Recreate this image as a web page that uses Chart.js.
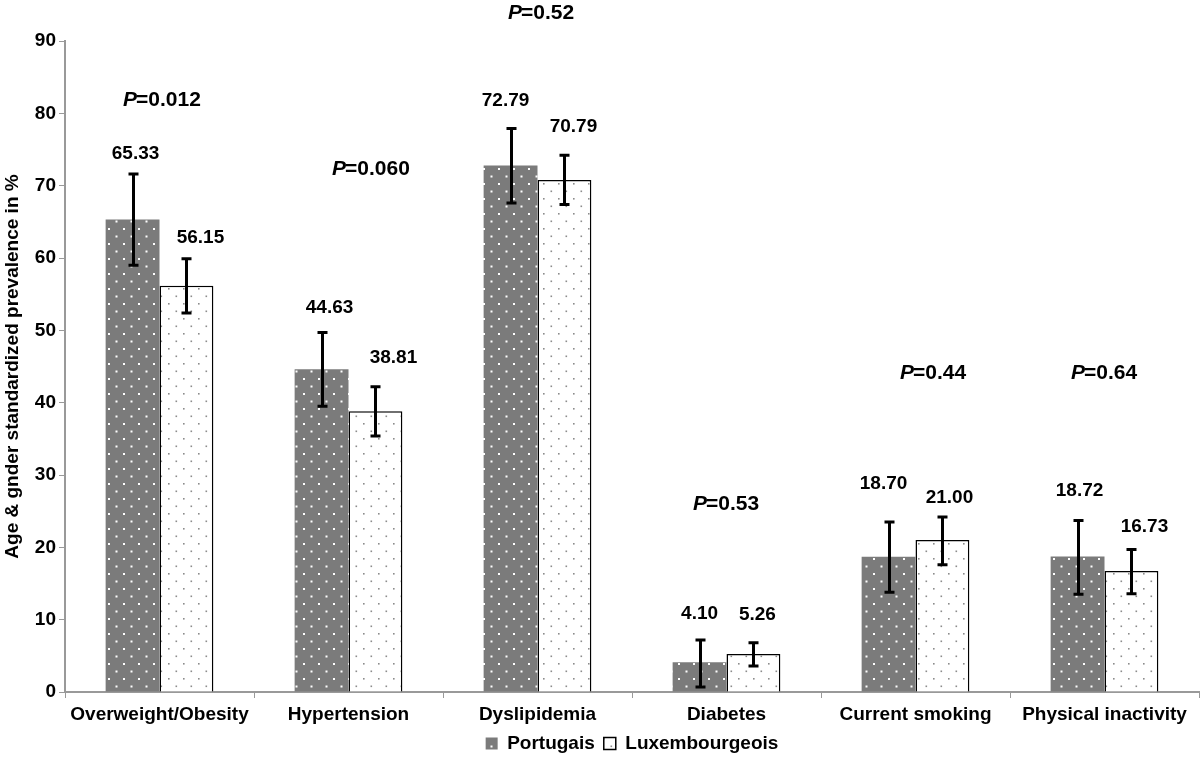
<!DOCTYPE html>
<html>
<head>
<meta charset="utf-8">
<script src="https://cdn.jsdelivr.net/npm/chart.js@4.4.1/dist/chart.umd.min.js"></script>
<style>
  html, body { margin: 0; padding: 0; background: #fff; }
  #wrap { width: 1200px; height: 758px; }
</style>
</head>
<body>
<div id="wrap"><canvas id="c" width="1200" height="758"></canvas></div>
<script>
// ---- data ----
const categories = ['Overweight/Obesity', 'Hypertension', 'Dyslipidemia', 'Diabetes', 'Current smoking', 'Physical inactivity'];
const seriesNames = ['Portugais', 'Luxembourgeois'];
const portugais = [65.33, 44.63, 72.79, 4.10, 18.70, 18.72];
const luxembourgeois = [56.15, 38.81, 70.79, 5.26, 21.00, 16.73];
const portugaisLow = [59.0, 39.5, 67.6, 0.7, 13.8, 13.5];
const portugaisHigh = [71.6, 49.7, 77.9, 7.2, 23.5, 23.7];
const luxembourgeoisLow = [52.4, 35.4, 67.4, 3.6, 17.6, 13.6];
const luxembourgeoisHigh = [59.9, 42.2, 74.2, 6.8, 24.2, 19.7];
const pValues = ['0.012', '0.060', '0.52', '0.53', '0.44', '0.64'];
const pValueLevel = [81.8, 72.3, 93.9, 25.9, 44.1, 44.1];
const yTickValues = [0, 10, 20, 30, 40, 50, 60, 70, 80, 90];

// ---- layout tweaks (pixels) ----
const pLabelDx = [3, 23, 4, 0, 18, 0];
const labelGap = [[20, 25, 28, 26, 38, 30], [21, 29, 29, 28, 19, 23]];
const labelDx = [[3, 8, -5, 0, -5, 2], [14, 18, 9, 4, 7, 13]];

const FONT = '"Liberation Sans", Arial, Helvetica, sans-serif';

function makePattern(bg, dot, size) {
  const c = document.createElement('canvas');
  c.width = 15; c.height = 15;
  const g = c.getContext('2d');
  g.fillStyle = bg; g.fillRect(0, 0, 15, 15);
  g.fillStyle = dot;
  g.fillRect(3, 3, size, size);
  g.fillRect(10.5, 10.5, size, size);
  return g.createPattern(c, 'repeat');
}
const ctx = document.getElementById('c').getContext('2d');
const patP = makePattern('#7b7b7b', '#ffffff', 2);
const patL = makePattern('#ffffff', '#8c8c8c', 1.6);

const errLow = [portugaisLow, luxembourgeoisLow];
const errHigh = [portugaisHigh, luxembourgeoisHigh];
const values = [portugais, luxembourgeois];

const overlay = {
  id: 'overlay',
  afterDatasetsDraw(chart) {
    const c = chart.ctx;
    const ys = chart.scales.y;
    const xs = chart.scales.x;
    c.save();
    c.strokeStyle = '#000';
    c.lineWidth = 3;
    c.lineCap = 'butt';
    for (let d = 0; d < 2; d++) {
      const meta = chart.getDatasetMeta(d);
      meta.data.forEach((bar, i) => {
        const x = Math.round(bar.x) + 0.5;
        const yl = ys.getPixelForValue(errLow[d][i]);
        const yh = ys.getPixelForValue(errHigh[d][i]);
        c.beginPath();
        c.moveTo(x, yh); c.lineTo(x, yl);
        c.moveTo(x - 5, yh); c.lineTo(x + 5, yh);
        c.moveTo(x - 5, yl); c.lineTo(x + 5, yl);
        c.stroke();
        c.fillStyle = '#000';
        c.font = 'bold 19px ' + FONT;
        c.textAlign = 'center';
        c.textBaseline = 'middle';
        c.fillText(values[d][i].toFixed(2), bar.x + labelDx[d][i], yh - labelGap[d][i]);
      });
    }
    c.textBaseline = 'middle';
    categories.forEach((cat, i) => {
      const cx = xs.getPixelForValue(i) + pLabelDx[i];
      const cy = ys.getPixelForValue(pValueLevel[i]);
      const rest = '=' + pValues[i];
      c.font = 'italic bold 21px ' + FONT;
      const wP = c.measureText('P').width;
      c.font = 'bold 21px ' + FONT;
      const wR = c.measureText(rest).width;
      const x0 = cx - (wP + wR) / 2;
      c.textAlign = 'left';
      c.font = 'italic bold 21px ' + FONT;
      c.fillText('P', x0, cy);
      c.font = 'bold 21px ' + FONT;
      c.fillText(rest, x0 + wP - 1, cy);
    });
    c.restore();
  }
};

new Chart(ctx, {
  type: 'bar',
  data: {
    labels: categories,
    datasets: [
      { label: seriesNames[0], data: portugais, backgroundColor: patP, borderColor: '#7b7b7b', borderWidth: 0 },
      { label: seriesNames[1], data: luxembourgeois, backgroundColor: patL, borderColor: '#000', borderWidth: 1.5 }
    ]
  },
  options: {
    responsive: false,
    animation: false,
    devicePixelRatio: 1,
    layout: { padding: { top: 41, right: 1, left: 0, bottom: -5 } },
    datasets: { bar: { categoryPercentage: 0.57, barPercentage: 1.0 } },
    plugins: {
      tooltip: { enabled: false },
      legend: {
        position: 'bottom',
        fullSize: false,
        labels: {
          color: '#000',
          font: { family: FONT, size: 19, weight: 'bold' },
          boxWidth: 12, boxHeight: 12,
          padding: 9
        }
      }
    },
    scales: {
      x: {
        grid: { display: true, drawOnChartArea: false, color: '#999', tickLength: 6, offset: true },
        border: { display: true, color: '#999', width: 2 },
        ticks: { color: '#000', font: { family: FONT, size: 19, weight: 'bold' }, padding: 5, maxRotation: 0, autoSkip: false },
        afterFit(s) { s.height = 33; }
      },
      y: {
        min: 0, max: 90,
        afterBuildTicks(s) { s.ticks = yTickValues.map(v => ({ value: v })); },
        grid: { display: true, drawOnChartArea: false, color: '#999', tickLength: 6 },
        border: { display: true, color: '#999', width: 2 },
        ticks: { color: '#000', font: { family: FONT, size: 19, weight: 'bold' }, padding: 3 },
        title: { display: true, text: 'Age & gnder standardized prevalence in %', color: '#000', font: { family: FONT, size: 19, weight: 'bold' }, padding: { top: 1, bottom: 0 } },
        afterFit(s) { s.width = 65; }
      }
    }
  },
  plugins: [overlay]
});
</script>
</body>
</html>
